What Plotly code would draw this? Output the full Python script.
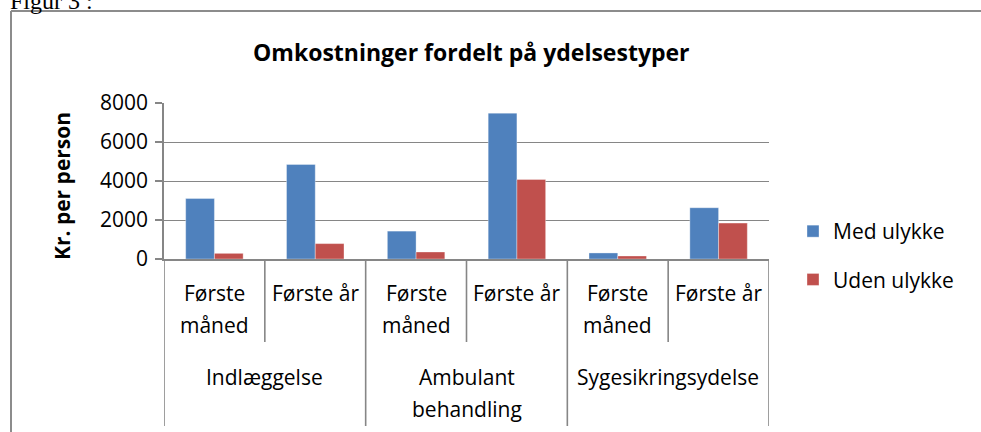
import plotly.graph_objects as go

# ---- data ----
groups = ["Indlæggelse", "Ambulant\nbehandling", "Sygesikringsydelse"]
periods = ["Første\nmåned", "Første år"]
med_ulykke = [3100, 4850, 1430, 7480, 310, 2630]
uden_ulykke = [290, 790, 360, 4080, 155, 1840]
y_ticks = [0, 2000, 4000, 6000, 8000]
series_names = ["Med ulykke", "Uden ulykke"]
title_text = "Omkostninger fordelt på ydelsestyper"
y_title = "Kr. per person"
fig_caption = "Figur 3 :"

# ---- layout geometry ----
W, H = 981, 432
L, R, T, B = 164, 769, 103, 259
FONT = "Open Sans"
GRID = "#868686"


def px_x(px):
    return (px - L) / (R - L)


def px_y(py):
    return (B - py) / (B - T)


n_cat = len(groups) * len(periods)
cat_names = [f"{g}|{p}" for g in groups for p in periods]

fig = go.Figure()
fig.add_trace(go.Bar(x=cat_names, y=med_ulykke, name=series_names[0],
                     marker=dict(color="#4F81BD", line=dict(color="rgba(255,255,255,0.35)", width=1)),
                     legendgroup="a"))
fig.add_trace(go.Bar(x=cat_names, y=uden_ulykke, name=series_names[1],
                     marker=dict(color="#C0504D", line=dict(color="rgba(255,255,255,0.35)", width=1)),
                     legendgroup="b"))

annotations = []
shapes = []

# inner (period) labels and outer (group) labels
for gi, g in enumerate(groups):
    for pi, p in enumerate(periods):
        idx = gi * len(periods) + pi
        for li, line in enumerate(p.split("\n")):
            annotations.append(dict(x=idx, xref="x", y=px_y(293 + li * 32), yref="paper",
                                    text=line, showarrow=False, xanchor="center", yanchor="middle",
                                    font=dict(family=FONT, size=21, color="#000")))
    center = gi * len(periods) + (len(periods) - 1) / 2
    for li, line in enumerate(g.split("\n")):
        annotations.append(dict(x=center, xref="x", y=px_y(377 + li * 32), yref="paper",
                                text=line, showarrow=False, xanchor="center", yanchor="middle",
                                font=dict(family=FONT, size=21, color="#000")))

# divider lines
for k in range(n_cat + 1):
    xb = k - 0.5
    is_group = (k % len(periods) == 0)
    y_end = 426 if is_group else 342
    shapes.append(dict(type="line", xref="x", yref="paper", x0=xb, x1=xb,
                       y0=px_y(B), y1=px_y(y_end), line=dict(color=GRID, width=1.6)))

# y axis title
annotations.append(dict(x=px_x(62), xref="paper", y=px_y(186), yref="paper", text=f"<b>{y_title}</b>",
                        textangle=-90, showarrow=False, xanchor="center", yanchor="middle",
                        font=dict(family=FONT, size=21, color="#000")))

# chart title
annotations.append(dict(x=px_x(471), xref="paper", y=px_y(52), yref="paper", text=f"<b>{title_text}</b>",
                        showarrow=False, xanchor="center", yanchor="middle",
                        font=dict(family=FONT, size=23, color="#000")))

# caption above chart (partly cut off, as in the reference)
annotations.append(dict(x=px_x(8), xref="paper", y=px_y(16), yref="paper", text=fig_caption,
                        showarrow=False, xanchor="left", yanchor="bottom",
                        font=dict(family="Liberation Serif", size=24, color="#000")))

# outer chart border
shapes.append(dict(type="line", xref="paper", yref="paper", x0=px_x(11), x1=px_x(W + 5),
                   y0=px_y(11), y1=px_y(11), line=dict(color="#8C8C8C", width=2)))
shapes.append(dict(type="line", xref="paper", yref="paper", x0=px_x(11), x1=px_x(11),
                   y0=px_y(11), y1=px_y(H + 5), line=dict(color="#8C8C8C", width=2)))

fig.update_layout(
    width=W, height=H,
    margin=dict(l=L, r=W - R, t=T, b=H - B, autoexpand=False),
    paper_bgcolor="white", plot_bgcolor="white",
    barmode="group", bargap=0.43, bargroupgap=0,
    font=dict(family=FONT, size=21, color="#000"),
    showlegend=True,
    legend=dict(x=px_x(793), y=px_y(211), xanchor="left", yanchor="top",
                font=dict(family=FONT, size=21, color="#000"),
                tracegroupgap=18, bgcolor="rgba(0,0,0,0)", itemclick=False),
    xaxis=dict(type="category", range=[-0.5, n_cat - 0.5], showticklabels=False,
               showline=True, linecolor=GRID, linewidth=1.6, ticks="", showgrid=False,
               zeroline=False, fixedrange=True),
    yaxis=dict(range=[0, 8000], tickvals=y_ticks, ticks="outside", ticklen=7,
               tickcolor=GRID, tickwidth=1.6, showline=True, linecolor=GRID, linewidth=1.6,
               showgrid=True, gridcolor=GRID, gridwidth=1.4, zeroline=False,
               tickfont=dict(family=FONT, size=21, color="#000"), ticklabelstandoff=3),
    annotations=annotations,
    shapes=shapes,
)

fig.write_html(
    "out.html",
    config={"displayModeBar": False},
    post_script="document.body.style.margin='0';document.body.style.overflow='hidden';",
)
